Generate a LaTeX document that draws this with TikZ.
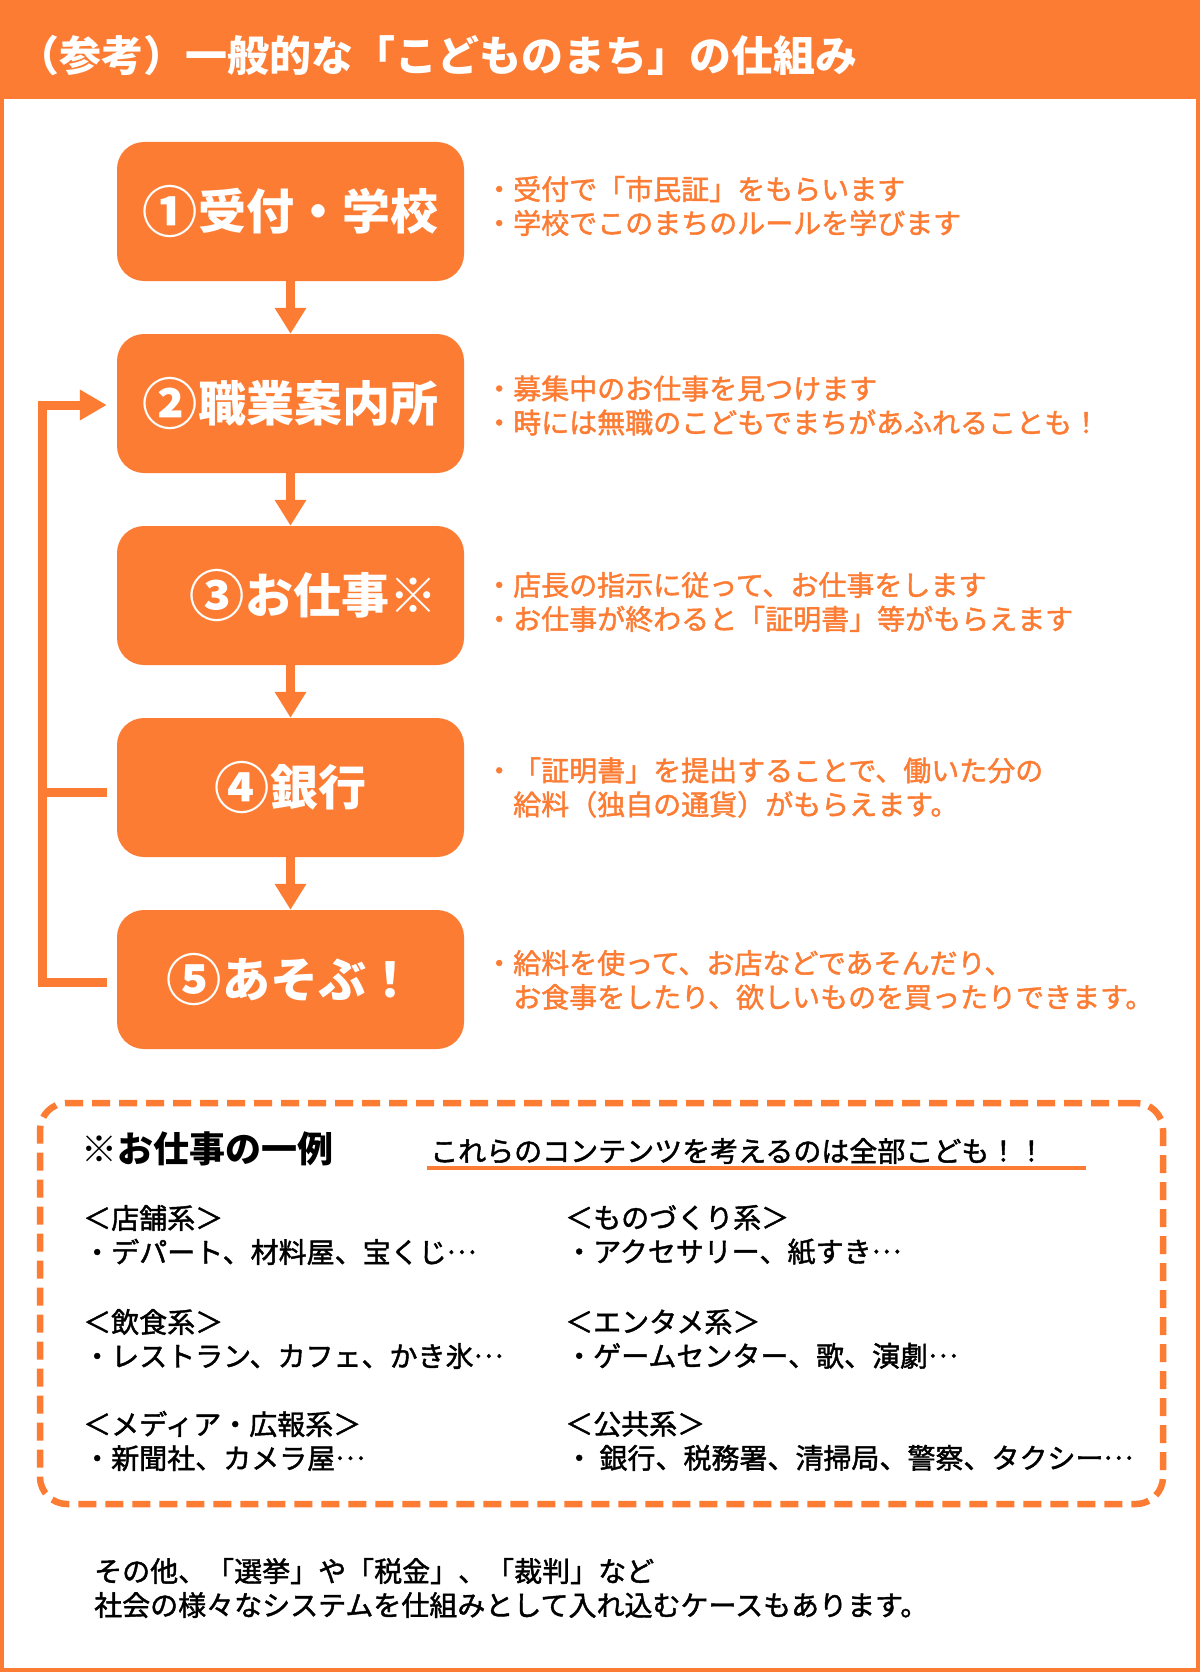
\documentclass[tikz,border=0pt]{standalone}
\usepackage{fontspec}
\newfontfamily\jp{Noto Sans CJK JP}
\newfontfamily\jpm[FakeBold=1.5]{Noto Sans CJK JP}
\newcommand\jel{\raisebox{0.32em}{…}}
\newcommand\cdig[1]{\raisebox{-0.07em}{\scalebox{1.15}{#1}}}
\usetikzlibrary{arrows.meta}
\definecolor{org}{RGB}{252,124,51}
\begin{document}
\begin{tikzpicture}[x=1pt,y=-1pt,
  stepbox/.style={fill=org, rounded corners=27pt, minimum width=347pt, minimum height=139pt, inner sep=0pt, text=white, font=\jp\bfseries\fontsize{48}{48}\selectfont},
  flow/.style={draw=org, line width=9pt, -{Triangle[width=30pt,length=26pt]}},
  fb/.style={draw=org, line width=9pt},
  desc/.style={anchor=west, inner sep=0pt, text=org, align=left, font=\jpm\fontsize{28}{34}\selectfont},
  blk/.style={anchor=west, inner sep=0pt, text=black, align=left, font=\jpm\fontsize{28}{34}\selectfont},
  dashbox/.style={draw=org, line width=6.5pt, dash pattern=on 18pt off 9pt, rounded corners=27pt, inner sep=0pt},
]
\fill[white] (0,0) rectangle (1200,1672);
\useasboundingbox (0,0) rectangle (1200,1672);
\fill[org] (0,0) rectangle (1200,99);
\draw[org, line width=3.5pt] (2,2) rectangle (1198,1670);
\node[anchor=west, inner sep=0pt, text=white, font=\jp\bfseries\fontsize{42}{42}\selectfont] (title) at (17,56) {（参考）一般的な「こどものまち」の仕組み};

% flow boxes
\node[stepbox] (b1) at (290.5,211.5) {\cdig{①}受付・学校};
\node[stepbox] (b2) at (290.5,403.5) {\cdig{②}職業案内所};
\node[stepbox] (b3) at (290.5,595.5) {\hspace*{46pt}\cdig{③}お仕事※};
\node[stepbox] (b4) at (290.5,787.5) {\cdig{④}銀行};
\node[stepbox] (b5) at (290.5,979.5) {\cdig{⑤}あそぶ！};

\draw[flow] (b1.south) -- (b2.north);
\draw[flow] (b2.south) -- (b3.north);
\draw[flow] (b3.south) -- (b4.north);
\draw[flow] (b4.south) -- (b5.north);

% feedback loop
\draw[fb, -{Triangle[width=29pt,length=27pt]}] ([xshift=-10pt,yshift=-3pt]b5.west) -- ++(-64,0) |- ([xshift=-10pt,yshift=-1.5pt]b2.west);
\draw[fb] ([xshift=-10pt,yshift=-4.5pt]b4.west) -- ++(-64,0);

% descriptions
\node[desc] (d1) at (485,206) {・受付で「市民証」をもらいます\\・学校でこのまちのルールを学びます};
\node[desc] (d2) at (485,405.5) {・募集中のお仕事を見つけます\\・時には無職のこどもでまちがあふれることも！};
\node[desc] (d3) at (485,602) {・店長の指示に従って、お仕事をします\\・お仕事が終わると「証明書」等がもらえます};
\node[desc] (d4) at (485,787.5) {・「証明書」を提出することで、働いた分の\\　給料（独自の通貨）がもらえます。};
\node[desc] (d5) at (485,980) {・給料を使って、お店などであそんだり、\\　お食事をしたり、欲しいものを買ったりできます。};

% examples box
\node[dashbox, minimum width=1123pt, minimum height=401pt] (ex) at (601.5,1303.5) {};
\node[anchor=west, inner sep=0pt, text=black, font=\jp\bfseries\fontsize{36}{36}\selectfont] (exh) at (81,1149) {※お仕事の一例};
\node[blk] (u) at (430,1151) {これらのコンテンツを考えるのは全部こども！！};
\coordinate (ul1) at (427,1168);
\coordinate (ul2) at (1086,1168);
\draw[org, line width=4pt] (ul1) -- (ul2);

\node[blk] (c1) at (83,1235) {＜店舗系＞\\・デパート、材料屋、宝くじ\jel};
\node[blk] (c2) at (83,1339) {＜飲食系＞\\・レストラン、カフェ、かき氷\jel};
\node[blk] (c3) at (83,1441) {＜メディア・広報系＞\\・新聞社、カメラ屋\jel};
\node[blk] (c4) at (565,1235) {＜ものづくり系＞\\・アクセサリー、紙すき\jel};
\node[blk] (c5) at (565,1339) {＜エンタメ系＞\\・ゲームセンター、歌、演劇\jel};
\node[blk] (c6) at (565,1441) {＜公共系＞\\・ 銀行、税務署、清掃局、警察、タクシー\jel};

\node[blk] (note) at (94,1588) {その他、「選挙」や「税金」、「裁判」など\\社会の様々なシステムを仕組みとして入れ込むケースもあります。};
\end{tikzpicture}
\end{document}
